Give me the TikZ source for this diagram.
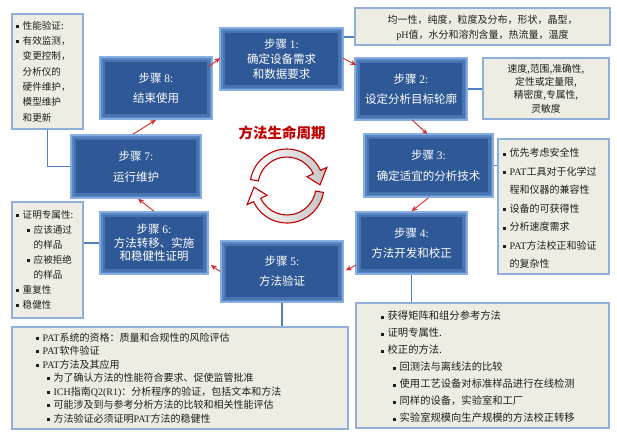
\documentclass[tikz,border=0pt]{standalone}
\usepackage{fontspec}
\setmainfont{Noto Sans CJK SC}
\newfontfamily\latf{Liberation Serif}
\usetikzlibrary{arrows.meta,calc}
\definecolor{stepfill}{HTML}{2E5896}
\definecolor{stepglow}{HTML}{5A86C4}
\definecolor{stepedge}{HTML}{86AEE0}
\definecolor{greyfill}{HTML}{EEEDE3}
\definecolor{greyedge}{HTML}{8FAFD8}
\definecolor{linkblue}{HTML}{4F81BD}
\definecolor{arrowred}{HTML}{D42A2A}
\definecolor{titlered}{HTML}{C00000}
\definecolor{txt}{HTML}{1E1E1E}
\newcommand\PAT{{\latf PAT}}
\newcommand\bu{\makebox[7pt][l]{\raisebox{0.25ex}{\rule{3pt}{3pt}}}}
\newcommand\ind{\hspace*{11pt}}
\newcommand\cont{\hspace*{7pt}}
\newcommand\stp[1]{步骤 {\latf #1:}}
\begin{document}
\begin{tikzpicture}[x=1pt,y=-1pt,
 stepbox/.style={draw=stepedge, line width=1.6pt, fill=stepfill, text=white, align=center, inner sep=0pt,
   font=\fontsize{11.5}{20}\selectfont,
   path picture={\draw[stepglow!60!stepfill, line width=10pt] (path picture bounding box.south west) rectangle (path picture bounding box.north east);
                 \draw[stepglow, line width=5pt] (path picture bounding box.south west) rectangle (path picture bounding box.north east);}},
 greybox/.style={draw=greyedge, line width=1.1pt, fill=greyfill, inner sep=0pt},
 boxtext/.style={text=txt, align=left, inner sep=0pt},
 link/.style={draw=linkblue, line width=1.8pt},
 cyc/.style={draw=arrowred, line width=0.9pt, -{Stealth[length=6pt,width=5pt]}},
 band/.style={draw=titlered, line width=1.1pt, left color=white, right color=gray!45},
]
\fill[white] (0,0) rectangle (617,431);
\useasboundingbox (0,0) rectangle (617,431);

% step boxes
\node[stepbox, minimum width=123pt, minimum height=62pt, font=\fontsize{11.5}{15}\selectfont] (S1) at (281.5,59) {\stp{1}\\确定设备需求\\和数据要求};
\node[stepbox, minimum width=112pt, minimum height=62pt] (S2) at (411,89) {\stp{2}\\设定分析目标轮廓};
\node[stepbox, minimum width=129pt, minimum height=63pt, font=\fontsize{11.5}{21}\selectfont] (S3) at (428.5,165.5) {\stp{3}\\确定适宜的分析技术};
\node[stepbox, minimum width=111pt, minimum height=62pt] (S4) at (411.5,243) {\stp{4}\\方法开发和校正};
\node[stepbox, minimum width=122pt, minimum height=61pt] (S5) at (282,271.5) {\stp{5}\\方法验证};
\node[stepbox, minimum width=108pt, minimum height=62pt, font=\fontsize{11.5}{13.5}\selectfont] (S6) at (154,243) {\stp{6}\\方法转移、实施\\和稳健性证明};
\node[stepbox, minimum width=130pt, minimum height=63pt, font=\fontsize{11.5}{21}\selectfont] (S7) at (136,166.5) {\stp{7}\\运行维护};
\node[stepbox, minimum width=112pt, minimum height=62pt] (S8) at (156,88) {\stp{8}\\结束使用};

% grey boxes
\node[greybox, minimum width=255pt, minimum height=37pt] (G1) at (482.5,26.5) {};
\node[greybox, minimum width=126pt, minimum height=61pt] (G2) at (546,88.5) {};
\node[greybox, minimum width=111pt, minimum height=135pt] (G3) at (553.5,206.5) {};
\node[greybox, minimum width=253pt, minimum height=125pt] (G4) at (482.5,365.5) {};
\node[greybox, minimum width=336pt, minimum height=102pt] (G5) at (180,378) {};
\node[greybox, minimum width=71pt, minimum height=116pt] (G6) at (47.5,260) {};
\node[greybox, minimum width=71pt, minimum height=115pt] (G8) at (47.5,71.5) {};

% connectors to boxes
\draw[link] (G8.south) |- (S7.west);
\draw[link] ([yshift=22pt]S1.east) -- ([yshift=22pt]S1.east -| G1.west);
\draw[link] (S2.east) -- (S2.east -| G2.west);
\draw[link] (S3.east) -- (S3.east -| G3.west);
\draw[link] (S4.south) -- (S4.south |- G4.north);
\draw[link] (S5.south) -- (S5.south |- G5.north);
\draw[link] (S6.west) -- (S6.west -| G6.east);

% box texts
\node[boxtext, align=center, font=\fontsize{10}{15}\selectfont] (G1t) at ([yshift=-1pt]G1.center)
 {均一性，纯度，粒度及分布，形状，晶型，\\{\latf pH}值，水分和溶剂含量，热流量，温度};
\node[boxtext, align=center, font=\fontsize{9.8}{13.3}\selectfont] (G2t) at (G2.center)
 {速度,范围,准确性,\\定性或定量限,\\精密度,专属性,\\灵敏度};
\node[boxtext, anchor=west, font=\fontsize{10}{18.5}\selectfont] (G3t) at ([xshift=5pt,yshift=-2pt]G3.west)
 {\bu 优先考虑安全性\\\bu \PAT 工具对于化学过\\\cont 程和仪器的兼容性\\\bu 设备的可获得性\\\bu 分析速度需求\\\bu \PAT 方法校正和验证\\\cont 的复杂性};
\node[boxtext, anchor=west, font=\fontsize{9.6}{15.3}\selectfont] (G8t) at ([xshift=4pt]G8.west)
 {\bu 性能验证:\\\bu 有效监测，\\\cont 变更控制，\\\cont 分析仪的\\\cont 硬件维护，\\\cont 模型维护\\\cont 和更新};
\node[boxtext, anchor=west, font=\fontsize{9.6}{15}\selectfont] (G6t) at ([xshift=4pt]G6.west)
 {\bu 证明专属性:\\\ind\bu 应该通过\\\ind\cont 的样品\\\ind\bu 应被拒绝\\\ind\cont 的样品\\\bu 重复性\\\bu 稳健性};
\node[boxtext, anchor=west, font=\fontsize{10}{13.5}\selectfont] (G5t) at ([xshift=24pt]G5.west)
 {\bu \PAT 系统的资格：质量和合规性的风险评估\\
  \bu \PAT 软件验证\\
  \bu \PAT 方法及其应用\\
  \ind\bu 为了确认方法的性能符合要求、促使监管批准\\
  \ind\bu {\latf ICH}指南{\latf Q2(R1)}：分析程序的验证，包括文本和方法\\
  \ind\bu 可能涉及到与参考分析方法的比较和相关性能评估\\
  \ind\bu 方法验证必须证明\PAT 方法的稳健性};
\node[boxtext, anchor=west, font=\fontsize{10.3}{17}\selectfont] (G4t) at ([xshift=25pt,yshift=-1.5pt]G4.west)
 {\bu 获得矩阵和组分参考方法\\
  \bu 证明专属性.\\
  \bu 校正的方法.\\
  \hspace*{12pt}\bu 回测法与离线法的比较\\
  \hspace*{12pt}\bu 使用工艺设备对标准样品进行在线检测\\
  \hspace*{12pt}\bu 同样的设备，实验室和工厂\\
  \hspace*{12pt}\bu 实验室规模向生产规模的方法校正转移};

% cycle arrows between steps
\draw[cyc] ([shift={(-5,11)}]S8.north east) -- ([shift={(1,-1)}]S1.west);
\draw[cyc] ([shift={(-1,-1)}]S1.east) -- ([shift={(2,8)}]S2.north west);
\draw[cyc] ([shift={(1,-1)}]S2.south) -- ([shift={(-1,1)}]S3.north);
\draw[cyc] (S3.south) -- (S4.north);
\draw[cyc] ([shift={(1,22)}]S4.west) -- ([shift={(2,-1)}]S5.east);
\draw[cyc] (S5.west) -- ([shift={(2,22)}]S6.east);
\draw[cyc] (S6.north) -- ([shift={(2,0)}]S7.south);
\draw[cyc] ([shift={(-3,0)}]S7.north) -- (S8.south);

% title and circular symbol
\node[font=\fontsize{14.5}{16}\selectfont\bfseries, text=titlered] (title) at (282,133) {方法生命周期};
\begin{scope}[shift={(287,186)}, x=1pt, y=1pt]
 \path[band] (170:37) arc[start angle=170,end angle=25,radius=37] -- (25:44) -- (2:33) -- (25:22) -- (25:29) arc[start angle=25,end angle=170,radius=29] -- cycle;
 \path[band] (350:37) arc[start angle=350,end angle=205,radius=37] -- (205:44) -- (182:33) -- (205:22) -- (205:29) arc[start angle=205,end angle=350,radius=29] -- cycle;
\end{scope}
\end{tikzpicture}
\end{document}
